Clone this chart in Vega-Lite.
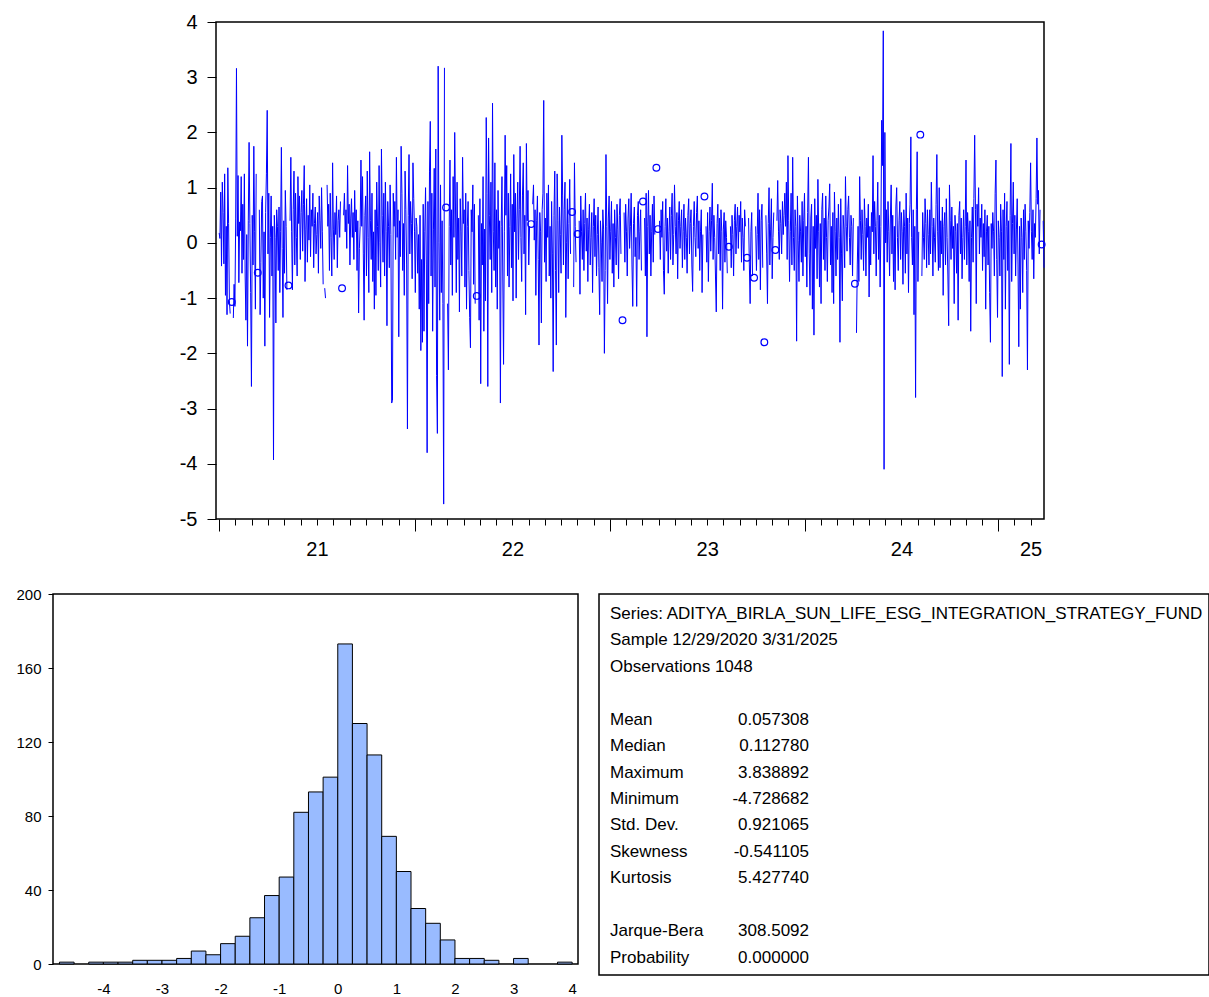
{
"$schema": "https://vega.github.io/schema/vega-lite/v6.json",
"background": "white",
"padding": {"left": 15, "top": 11, "right": 0, "bottom": 0},
"autosize": {"type": "pad"},
"config": {
  "font": "Liberation Sans",
  "view": {"stroke": "#000000", "strokeWidth": 1.5},
  "axis": {"domain": false, "grid": false, "labelFont": "Liberation Sans", "labelColor": "#000000", "tickColor": "#000000", "tickWidth": 1, "title": null}
},
"datasets": {
"series": [
{"i":0,"v":0.18},{"i":1,"v":0.08},{"i":2,"v":0.92},{"i":3,"v":-0.42},{"i":4,"v":1.1},{"i":5,"v":0.55},{"i":6,"v":-0.38},{"i":7,"v":1.25},{"i":8,"v":-0.95},{"i":9,"v":0.3},
{"i":10,"v":-1.3},{"i":11,"v":1.36},{"i":12,"v":0.35},{"i":13,"v":-1.05},{"i":14,"v":-1.28},{"i":15,"v":null},{"i":16,"v":-1.07},{"i":17,"v":null},{"i":18,"v":-1.36},{"i":19,"v":-0.75},
{"i":20,"v":-1.15},{"i":21,"v":0.45},{"i":22,"v":3.16},{"i":23,"v":0.12},{"i":24,"v":1.22},{"i":25,"v":-0.72},{"i":26,"v":0.38},{"i":27,"v":0.22},{"i":28,"v":1.2},{"i":29,"v":-0.55},
{"i":30,"v":0.7},{"i":31,"v":-0.3},{"i":32,"v":1.25},{"i":33,"v":-0.6},{"i":34,"v":-1.4},{"i":35,"v":0.15},{"i":36,"v":-1.87},{"i":37,"v":0.4},{"i":38,"v":1.82},{"i":39,"v":0.35},
{"i":40,"v":-0.9},{"i":41,"v":-2.6},{"i":42,"v":0.5},{"i":43,"v":-0.4},{"i":44,"v":1.75},{"i":45,"v":0.2},{"i":46,"v":-1.2},{"i":47,"v":1.25},{"i":48,"v":null},{"i":49,"v":-0.54},
{"i":50,"v":null},{"i":51,"v":0.6},{"i":52,"v":-1.3},{"i":53,"v":-0.35},{"i":54,"v":0.75},{"i":55,"v":0.85},{"i":56,"v":-1.0},{"i":57,"v":0.2},{"i":58,"v":-1.87},{"i":59,"v":0.55},
{"i":60,"v":1.25},{"i":61,"v":2.4},{"i":62,"v":-0.2},{"i":63,"v":0.9},{"i":64,"v":-1.35},{"i":65,"v":0.1},{"i":66,"v":0.85},{"i":67,"v":-0.6},{"i":68,"v":0.3},{"i":69,"v":-3.93},
{"i":70,"v":0.5},{"i":71,"v":0.1},{"i":72,"v":-1.45},{"i":73,"v":0.6},{"i":74,"v":0.3},{"i":75,"v":-0.5},{"i":76,"v":0.65},{"i":77,"v":-0.9},{"i":78,"v":0.2},{"i":79,"v":1.73},
{"i":80,"v":-0.1},{"i":81,"v":-1.35},{"i":82,"v":0.4},{"i":83,"v":-0.55},{"i":84,"v":0.95},{"i":85,"v":0.3},{"i":86,"v":-0.85},{"i":87,"v":null},{"i":88,"v":-0.77},{"i":89,"v":null},
{"i":90,"v":0.4},{"i":91,"v":1.55},{"i":92,"v":0.2},{"i":93,"v":-0.85},{"i":94,"v":0.6},{"i":95,"v":1.3},{"i":96,"v":-0.4},{"i":97,"v":0.9},{"i":98,"v":0.1},{"i":99,"v":-0.6},
{"i":100,"v":1.2},{"i":101,"v":0.35},{"i":102,"v":0.85},{"i":103,"v":-0.3},{"i":104,"v":0.55},{"i":105,"v":0.95},{"i":106,"v":-0.15},{"i":107,"v":0.7},{"i":108,"v":1.4},{"i":109,"v":-0.7},
{"i":110,"v":0.25},{"i":111,"v":0.8},{"i":112,"v":-0.35},{"i":113,"v":0.5},{"i":114,"v":0.05},{"i":115,"v":1.05},{"i":116,"v":-0.25},{"i":117,"v":0.6},{"i":118,"v":0.3},{"i":119,"v":0.9},
{"i":120,"v":-0.45},{"i":121,"v":0.35},{"i":122,"v":0.65},{"i":123,"v":-0.2},{"i":124,"v":0.15},{"i":125,"v":0.55},{"i":126,"v":-0.55},{"i":127,"v":0.85},{"i":128,"v":0.4},{"i":129,"v":-0.1},
{"i":130,"v":1.0},{"i":131,"v":0.2},{"i":132,"v":-0.75},{"i":133,"v":null},{"i":134,"v":-0.82},{"i":135,"v":-1.0},{"i":136,"v":null},{"i":137,"v":1.05},{"i":138,"v":0.3},{"i":139,"v":0.7},
{"i":140,"v":-0.5},{"i":141,"v":0.9},{"i":142,"v":0.1},{"i":143,"v":-0.6},{"i":144,"v":1.45},{"i":145,"v":0.25},{"i":146,"v":-0.3},{"i":147,"v":0.55},{"i":148,"v":0.15},{"i":149,"v":0.85},
{"i":150,"v":-0.45},{"i":151,"v":0.4},{"i":152,"v":0.6},{"i":153,"v":0.1},{"i":154,"v":0.75},{"i":155,"v":null},{"i":156,"v":-0.82},{"i":157,"v":null},{"i":158,"v":0.5},{"i":159,"v":0.9},
{"i":160,"v":0.2},{"i":161,"v":0.6},{"i":162,"v":-0.1},{"i":163,"v":1.4},{"i":164,"v":0.35},{"i":165,"v":0.7},{"i":166,"v":-0.4},{"i":167,"v":0.45},{"i":168,"v":0.8},{"i":169,"v":0.1},
{"i":170,"v":0.55},{"i":171,"v":-0.3},{"i":172,"v":0.95},{"i":173,"v":0.2},{"i":174,"v":0.6},{"i":175,"v":-0.5},{"i":176,"v":0.4},{"i":177,"v":-1.27},{"i":178,"v":-0.1},{"i":179,"v":0.3},
{"i":180,"v":1.5},{"i":181,"v":0.3},{"i":182,"v":1.2},{"i":183,"v":-0.2},{"i":184,"v":-1.4},{"i":185,"v":0.5},{"i":186,"v":0.85},{"i":187,"v":-0.6},{"i":188,"v":1.3},{"i":189,"v":0.1},
{"i":190,"v":-0.9},{"i":191,"v":1.65},{"i":192,"v":0.4},{"i":193,"v":-0.3},{"i":194,"v":0.9},{"i":195,"v":-0.7},{"i":196,"v":0.2},{"i":197,"v":-1.2},{"i":198,"v":0.6},{"i":199,"v":-0.95},
{"i":200,"v":1.1},{"i":201,"v":0.3},{"i":202,"v":-0.5},{"i":203,"v":1.4},{"i":204,"v":0.0},{"i":205,"v":-0.8},{"i":206,"v":1.7},{"i":207,"v":0.5},{"i":208,"v":-0.35},{"i":209,"v":0.9},
{"i":210,"v":-0.6},{"i":211,"v":1.1},{"i":212,"v":0.2},{"i":213,"v":-1.5},{"i":214,"v":0.75},{"i":215,"v":0.3},{"i":216,"v":-0.45},{"i":217,"v":1.05},{"i":218,"v":0.15},{"i":219,"v":-2.9},
{"i":220,"v":-2.85},{"i":221,"v":0.9},{"i":222,"v":0.3},{"i":223,"v":0.75},{"i":224,"v":-0.3},{"i":225,"v":1.55},{"i":226,"v":0.1},{"i":227,"v":0.6},{"i":228,"v":-1.7},{"i":229,"v":0.4},
{"i":230,"v":-0.25},{"i":231,"v":1.75},{"i":232,"v":0.9},{"i":233,"v":-0.5},{"i":234,"v":0.35},{"i":235,"v":-0.95},{"i":236,"v":1.3},{"i":237,"v":0.6},{"i":238,"v":-0.4},{"i":239,"v":-3.37},
{"i":240,"v":0.5},{"i":241,"v":1.6},{"i":242,"v":-0.2},{"i":243,"v":0.75},{"i":244,"v":0.35},{"i":245,"v":-0.65},{"i":246,"v":1.45},{"i":247,"v":0.8},{"i":248,"v":0.2},{"i":249,"v":-0.9},
{"i":250,"v":0.45},{"i":251,"v":0.3},{"i":252,"v":-0.55},{"i":253,"v":0.15},{"i":254,"v":-1.2},{"i":255,"v":0.5},{"i":256,"v":-1.95},{"i":257,"v":-0.3},{"i":258,"v":-1.8},{"i":259,"v":0.7},
{"i":260,"v":-1.6},{"i":261,"v":0.2},{"i":262,"v":1.0},{"i":263,"v":-0.4},{"i":264,"v":-3.8},{"i":265,"v":0.75},{"i":266,"v":-1.1},{"i":267,"v":1.3},{"i":268,"v":2.2},{"i":269,"v":-0.6},
{"i":270,"v":0.9},{"i":271,"v":-1.6},{"i":272,"v":0.25},{"i":273,"v":1.35},{"i":274,"v":-0.8},{"i":275,"v":1.7},{"i":276,"v":-2.4},{"i":277,"v":-3.45},{"i":278,"v":3.2},{"i":279,"v":0.0},
{"i":280,"v":-1.4},{"i":281,"v":1.05},{"i":282,"v":-0.9},{"i":283,"v":0.4},{"i":284,"v":-1.1},{"i":285,"v":-4.73},{"i":286,"v":3.17},{"i":287,"v":null},{"i":288,"v":0.64},{"i":289,"v":null},
{"i":290,"v":-1.1},{"i":291,"v":-2.3},{"i":292,"v":0.3},{"i":293,"v":1.5},{"i":294,"v":-0.4},{"i":295,"v":0.6},{"i":296,"v":-0.95},{"i":297,"v":1.2},{"i":298,"v":0.1},{"i":299,"v":2.0},
{"i":300,"v":0.65},{"i":301,"v":-0.9},{"i":302,"v":1.1},{"i":303,"v":-0.3},{"i":304,"v":0.45},{"i":305,"v":-1.25},{"i":306,"v":0.8},{"i":307,"v":0.2},{"i":308,"v":-0.6},{"i":309,"v":1.55},
{"i":310,"v":0.35},{"i":311,"v":0.6},{"i":312,"v":-0.8},{"i":313,"v":0.9},{"i":314,"v":-1.2},{"i":315,"v":0.3},{"i":316,"v":0.75},{"i":317,"v":-0.5},{"i":318,"v":-1.35},{"i":319,"v":-1.9},
{"i":320,"v":0.6},{"i":321,"v":0.2},{"i":322,"v":1.05},{"i":323,"v":-0.75},{"i":324,"v":0.7},{"i":325,"v":-1.1},{"i":326,"v":null},{"i":327,"v":-0.96},{"i":328,"v":null},{"i":329,"v":0.5},
{"i":330,"v":-1.4},{"i":331,"v":0.8},{"i":332,"v":-2.55},{"i":333,"v":0.35},{"i":334,"v":-0.4},{"i":335,"v":1.2},{"i":336,"v":-1.6},{"i":337,"v":0.25},{"i":338,"v":-1.05},{"i":339,"v":2.27},
{"i":340,"v":0.9},{"i":341,"v":-2.6},{"i":342,"v":1.9},{"i":343,"v":0.5},{"i":344,"v":-0.3},{"i":345,"v":1.1},{"i":346,"v":-0.9},{"i":347,"v":2.53},{"i":348,"v":0.2},{"i":349,"v":-0.5},
{"i":350,"v":1.45},{"i":351,"v":-0.8},{"i":352,"v":0.6},{"i":353,"v":-1.2},{"i":354,"v":0.95},{"i":355,"v":-0.1},{"i":356,"v":0.4},{"i":357,"v":-2.9},{"i":358,"v":0.3},{"i":359,"v":1.2},
{"i":360,"v":-0.6},{"i":361,"v":-2.2},{"i":362,"v":0.2},{"i":363,"v":1.95},{"i":364,"v":0.5},{"i":365,"v":1.4},{"i":366,"v":-0.6},{"i":367,"v":0.9},{"i":368,"v":-0.8},{"i":369,"v":0.3},
{"i":370,"v":1.25},{"i":371,"v":-0.45},{"i":372,"v":0.7},{"i":373,"v":-1.05},{"i":374,"v":1.6},{"i":375,"v":0.2},{"i":376,"v":0.9},{"i":377,"v":-1.0},{"i":378,"v":0.45},{"i":379,"v":1.1},
{"i":380,"v":-0.3},{"i":381,"v":0.6},{"i":382,"v":1.75},{"i":383,"v":0.1},{"i":384,"v":-0.7},{"i":385,"v":0.85},{"i":386,"v":1.45},{"i":387,"v":-0.2},{"i":388,"v":0.5},{"i":389,"v":-1.3},
{"i":390,"v":1.8},{"i":391,"v":0.4},{"i":392,"v":0.95},{"i":393,"v":-0.4},{"i":394,"v":0.3},{"i":395,"v":null},{"i":396,"v":0.34},{"i":397,"v":null},{"i":398,"v":0.7},{"i":399,"v":1.05},
{"i":400,"v":0.05},{"i":401,"v":0.6},{"i":402,"v":-0.95},{"i":403,"v":0.4},{"i":404,"v":0.85},{"i":405,"v":-0.3},{"i":406,"v":-1.85},{"i":407,"v":0.55},{"i":408,"v":0.2},{"i":409,"v":-1.45},
{"i":410,"v":0.6},{"i":411,"v":0.9},{"i":412,"v":2.58},{"i":413,"v":-0.35},{"i":414,"v":0.45},{"i":415,"v":-0.7},{"i":416,"v":0.9},{"i":417,"v":0.1},{"i":418,"v":1.05},{"i":419,"v":-0.6},
{"i":420,"v":0.3},{"i":421,"v":-1.0},{"i":422,"v":0.75},{"i":423,"v":-0.2},{"i":424,"v":-2.33},{"i":425,"v":0.5},{"i":426,"v":1.3},{"i":427,"v":-0.5},{"i":428,"v":-1.85},{"i":429,"v":1.25},
{"i":430,"v":0.4},{"i":431,"v":-0.9},{"i":432,"v":0.65},{"i":433,"v":0.15},{"i":434,"v":-0.55},{"i":435,"v":1.95},{"i":436,"v":0.85},{"i":437,"v":-0.4},{"i":438,"v":0.6},{"i":439,"v":1.1},
{"i":440,"v":-1.35},{"i":441,"v":0.0},{"i":442,"v":0.8},{"i":443,"v":-0.65},{"i":444,"v":0.35},{"i":445,"v":1.15},{"i":446,"v":-0.2},{"i":447,"v":null},{"i":448,"v":0.56},{"i":449,"v":null},
{"i":450,"v":-0.8},{"i":451,"v":1.45},{"i":452,"v":0.3},{"i":453,"v":-0.35},{"i":454,"v":null},{"i":455,"v":0.16},{"i":456,"v":null},{"i":457,"v":0.4},{"i":458,"v":-0.93},{"i":459,"v":0.85},
{"i":460,"v":0.2},{"i":461,"v":-0.3},{"i":462,"v":0.6},{"i":463,"v":-0.5},{"i":464,"v":0.35},{"i":465,"v":0.9},{"i":466,"v":-0.15},{"i":467,"v":0.45},{"i":468,"v":-0.7},{"i":469,"v":0.25},
{"i":470,"v":0.7},{"i":471,"v":-0.4},{"i":472,"v":0.1},{"i":473,"v":0.55},{"i":474,"v":-0.9},{"i":475,"v":0.3},{"i":476,"v":0.8},{"i":477,"v":-0.25},{"i":478,"v":0.5},{"i":479,"v":-0.6},
{"i":480,"v":0.15},{"i":481,"v":0.65},{"i":482,"v":-0.45},{"i":483,"v":-1.3},{"i":484,"v":0.4},{"i":485,"v":0.0},{"i":486,"v":-0.7},{"i":487,"v":0.6},{"i":488,"v":0.25},{"i":489,"v":-2.0},
{"i":490,"v":-0.5},{"i":491,"v":1.6},{"i":492,"v":0.3},{"i":493,"v":-1.1},{"i":494,"v":0.45},{"i":495,"v":0.85},{"i":496,"v":-0.3},{"i":497,"v":0.2},{"i":498,"v":0.75},{"i":499,"v":-0.55},
{"i":500,"v":0.35},{"i":501,"v":-0.8},{"i":502,"v":0.6},{"i":503,"v":0.1},{"i":504,"v":-0.4},{"i":505,"v":0.7},{"i":506,"v":0.25},{"i":507,"v":-0.65},{"i":508,"v":0.5},{"i":509,"v":0.8},
{"i":510,"v":-0.2},{"i":511,"v":null},{"i":512,"v":-1.4},{"i":513,"v":null},{"i":514,"v":0.55},{"i":515,"v":-0.35},{"i":516,"v":0.7},{"i":517,"v":0.2},{"i":518,"v":-0.6},{"i":519,"v":0.45},
{"i":520,"v":0.8},{"i":521,"v":-0.1},{"i":522,"v":0.3},{"i":523,"v":0.9},{"i":524,"v":-0.4},{"i":525,"v":-1.15},{"i":526,"v":0.35},{"i":527,"v":0.65},{"i":528,"v":-0.25},{"i":529,"v":0.1},
{"i":530,"v":-1.15},{"i":531,"v":0.5},{"i":532,"v":0.75},{"i":533,"v":-0.3},{"i":534,"v":0.2},{"i":535,"v":0.6},{"i":536,"v":-0.5},{"i":537,"v":null},{"i":538,"v":0.75},{"i":539,"v":null},
{"i":540,"v":0.45},{"i":541,"v":-0.6},{"i":542,"v":0.9},{"i":543,"v":-1.7},{"i":544,"v":0.3},{"i":545,"v":0.95},{"i":546,"v":-0.2},{"i":547,"v":0.5},{"i":548,"v":-0.6},{"i":549,"v":0.2},
{"i":550,"v":0.7},{"i":551,"v":-0.35},{"i":552,"v":0.85},{"i":553,"v":0.15},{"i":554,"v":null},{"i":555,"v":1.36},{"i":556,"v":null},{"i":557,"v":0.25},{"i":558,"v":null},{"i":559,"v":0.4},
{"i":560,"v":-0.3},{"i":561,"v":0.6},{"i":562,"v":0.1},{"i":563,"v":0.75},{"i":564,"v":-0.5},{"i":565,"v":-0.93},{"i":566,"v":0.3},{"i":567,"v":0.8},{"i":568,"v":-0.15},{"i":569,"v":0.45},
{"i":570,"v":-0.55},{"i":571,"v":0.2},{"i":572,"v":0.65},{"i":573,"v":-0.3},{"i":574,"v":0.5},{"i":575,"v":0.9},{"i":576,"v":-0.4},{"i":577,"v":0.15},{"i":578,"v":1.05},{"i":579,"v":0.3},
{"i":580,"v":-0.2},{"i":581,"v":0.55},{"i":582,"v":-0.65},{"i":583,"v":0.4},{"i":584,"v":0.75},{"i":585,"v":-0.1},{"i":586,"v":0.3},{"i":587,"v":0.6},{"i":588,"v":-0.45},{"i":589,"v":0.2},
{"i":590,"v":0.7},{"i":591,"v":-0.3},{"i":592,"v":0.45},{"i":593,"v":0.1},{"i":594,"v":-0.55},{"i":595,"v":0.5},{"i":596,"v":0.8},{"i":597,"v":-0.2},{"i":598,"v":0.35},{"i":599,"v":0.6},
{"i":600,"v":-0.4},{"i":601,"v":-0.88},{"i":602,"v":0.3},{"i":603,"v":0.75},{"i":604,"v":0.1},{"i":605,"v":-0.25},{"i":606,"v":0.55},{"i":607,"v":0.85},{"i":608,"v":-0.1},{"i":609,"v":0.4},
{"i":610,"v":-0.5},{"i":611,"v":0.2},{"i":612,"v":0.6},{"i":613,"v":-0.9},{"i":614,"v":0.15},{"i":615,"v":null},{"i":616,"v":0.84},{"i":617,"v":null},{"i":618,"v":0.3},{"i":619,"v":-0.35},
{"i":620,"v":0.55},{"i":621,"v":-0.7},{"i":622,"v":0.2},{"i":623,"v":0.65},{"i":624,"v":-0.15},{"i":625,"v":0.4},{"i":626,"v":1.08},{"i":627,"v":-0.3},{"i":628,"v":0.5},{"i":629,"v":0.1},
{"i":630,"v":-0.6},{"i":631,"v":-1.25},{"i":632,"v":0.35},{"i":633,"v":0.7},{"i":634,"v":-0.2},{"i":635,"v":0.45},{"i":636,"v":-0.5},{"i":637,"v":0.6},{"i":638,"v":0.2},{"i":639,"v":-1.2},
{"i":640,"v":0.25},{"i":641,"v":0.55},{"i":642,"v":-0.35},{"i":643,"v":0.4},{"i":644,"v":0.1},{"i":645,"v":-0.55},{"i":646,"v":null},{"i":647,"v":-0.07},{"i":648,"v":null},{"i":649,"v":0.3},
{"i":650,"v":-0.45},{"i":651,"v":0.5},{"i":652,"v":0.15},{"i":653,"v":-0.6},{"i":654,"v":0.4},{"i":655,"v":0.7},{"i":656,"v":-0.2},{"i":657,"v":0.3},{"i":658,"v":0.65},{"i":659,"v":-0.1},
{"i":660,"v":0.5},{"i":661,"v":0.2},{"i":662,"v":0.75},{"i":663,"v":-0.35},{"i":664,"v":0.45},{"i":665,"v":0.1},{"i":666,"v":-0.5},{"i":667,"v":0.6},{"i":668,"v":0.3},{"i":669,"v":null},
{"i":670,"v":-0.27},{"i":671,"v":null},{"i":672,"v":0.45},{"i":673,"v":-0.4},{"i":674,"v":-1.1},{"i":675,"v":0.2},{"i":676,"v":0.55},{"i":677,"v":-0.6},{"i":678,"v":null},{"i":679,"v":-0.63},
{"i":680,"v":null},{"i":681,"v":0.3},{"i":682,"v":-0.5},{"i":683,"v":0.15},{"i":684,"v":0.9},{"i":685,"v":-0.3},{"i":686,"v":0.6},{"i":687,"v":-0.85},{"i":688,"v":0.4},{"i":689,"v":0.7},
{"i":690,"v":-0.45},{"i":691,"v":null},{"i":692,"v":-1.8},{"i":693,"v":null},{"i":694,"v":0.5},{"i":695,"v":-0.2},{"i":696,"v":-1.1},{"i":697,"v":0.35},{"i":698,"v":1.0},{"i":699,"v":-0.4},
{"i":700,"v":0.25},{"i":701,"v":0.8},{"i":702,"v":-0.65},{"i":703,"v":0.1},{"i":704,"v":0.55},{"i":705,"v":null},{"i":706,"v":-0.13},{"i":707,"v":null},{"i":708,"v":0.4},{"i":709,"v":1.13},
{"i":710,"v":0.2},{"i":711,"v":-0.3},{"i":712,"v":0.6},{"i":713,"v":0.35},{"i":714,"v":-0.2},{"i":715,"v":0.75},{"i":716,"v":0.15},{"i":717,"v":0.5},{"i":718,"v":0.9},{"i":719,"v":0.3},
{"i":720,"v":1.1},{"i":721,"v":-0.3},{"i":722,"v":1.58},{"i":723,"v":0.4},{"i":724,"v":-0.7},{"i":725,"v":0.2},{"i":726,"v":0.9},{"i":727,"v":-0.4},{"i":728,"v":1.55},{"i":729,"v":0.1},
{"i":730,"v":-0.5},{"i":731,"v":0.6},{"i":732,"v":0.3},{"i":733,"v":-1.78},{"i":734,"v":0.85},{"i":735,"v":0.05},{"i":736,"v":-0.7},{"i":737,"v":0.5},{"i":738,"v":0.2},{"i":739,"v":-0.35},
{"i":740,"v":0.75},{"i":741,"v":-0.6},{"i":742,"v":0.4},{"i":743,"v":0.9},{"i":744,"v":-0.25},{"i":745,"v":0.3},{"i":746,"v":-0.8},{"i":747,"v":0.55},{"i":748,"v":1.55},{"i":749,"v":-0.2},
{"i":750,"v":-0.95},{"i":751,"v":0.45},{"i":752,"v":0.7},{"i":753,"v":-1.2},{"i":754,"v":0.3},{"i":755,"v":-1.67},{"i":756,"v":0.8},{"i":757,"v":-0.1},{"i":758,"v":0.5},{"i":759,"v":-0.65},
{"i":760,"v":1.15},{"i":761,"v":0.2},{"i":762,"v":-0.8},{"i":763,"v":0.35},{"i":764,"v":-1.1},{"i":765,"v":0.6},{"i":766,"v":0.9},{"i":767,"v":-0.3},{"i":768,"v":0.45},{"i":769,"v":-0.5},
{"i":770,"v":0.85},{"i":771,"v":0.1},{"i":772,"v":-0.7},{"i":773,"v":0.4},{"i":774,"v":0.65},{"i":775,"v":1.07},{"i":776,"v":-0.4},{"i":777,"v":0.3},{"i":778,"v":-0.9},{"i":779,"v":0.55},
{"i":780,"v":-1.1},{"i":781,"v":0.92},{"i":782,"v":0.2},{"i":783,"v":-0.6},{"i":784,"v":0.45},{"i":785,"v":-0.3},{"i":786,"v":0.7},{"i":787,"v":0.1},{"i":788,"v":-1.8},{"i":789,"v":0.8},
{"i":790,"v":-0.2},{"i":791,"v":-1.05},{"i":792,"v":0.5},{"i":793,"v":0.25},{"i":794,"v":-0.45},{"i":795,"v":1.2},{"i":796,"v":0.3},{"i":797,"v":-0.15},{"i":798,"v":0.6},{"i":799,"v":0.85},
{"i":800,"v":0.1},{"i":801,"v":-0.4},{"i":802,"v":0.5},{"i":803,"v":0.3},{"i":804,"v":-0.6},{"i":805,"v":0.45},{"i":806,"v":null},{"i":807,"v":-0.74},{"i":808,"v":null},{"i":809,"v":-1.63},
{"i":810,"v":-0.4},{"i":811,"v":0.3},{"i":812,"v":-0.7},{"i":813,"v":1.2},{"i":814,"v":0.4},{"i":815,"v":-0.3},{"i":816,"v":0.6},{"i":817,"v":0.15},{"i":818,"v":-0.5},{"i":819,"v":0.8},
{"i":820,"v":0.3},{"i":821,"v":-0.6},{"i":822,"v":0.45},{"i":823,"v":0.1},{"i":824,"v":0.7},{"i":825,"v":-0.98},{"i":826,"v":0.3},{"i":827,"v":-0.4},{"i":828,"v":0.55},{"i":829,"v":0.2},
{"i":830,"v":1.58},{"i":831,"v":-0.2},{"i":832,"v":0.75},{"i":833,"v":0.3},{"i":834,"v":-0.6},{"i":835,"v":0.4},{"i":836,"v":1.1},{"i":837,"v":-0.3},{"i":838,"v":0.5},{"i":839,"v":-0.8},
{"i":840,"v":0.3},{"i":841,"v":2.22},{"i":842,"v":1.4},{"i":843,"v":3.84},{"i":844,"v":-4.1},{"i":845,"v":2.0},{"i":846,"v":0.0},{"i":847,"v":0.6},{"i":848,"v":-0.35},{"i":849,"v":0.75},
{"i":850,"v":0.2},{"i":851,"v":-0.6},{"i":852,"v":0.45},{"i":853,"v":1.05},{"i":854,"v":-0.2},{"i":855,"v":0.5},{"i":856,"v":-0.7},{"i":857,"v":0.3},{"i":858,"v":-0.85},{"i":859,"v":0.65},
{"i":860,"v":1.0},{"i":861,"v":0.1},{"i":862,"v":-0.5},{"i":863,"v":0.4},{"i":864,"v":0.75},{"i":865,"v":-0.3},{"i":866,"v":0.55},{"i":867,"v":0.2},{"i":868,"v":-0.75},{"i":869,"v":0.6},
{"i":870,"v":0.3},{"i":871,"v":-0.55},{"i":872,"v":0.9},{"i":873,"v":-0.2},{"i":874,"v":0.45},{"i":875,"v":-0.9},{"i":876,"v":0.35},{"i":877,"v":0.7},{"i":878,"v":1.92},{"i":879,"v":0.1},
{"i":880,"v":-0.4},{"i":881,"v":0.6},{"i":882,"v":-1.3},{"i":883,"v":0.3},{"i":884,"v":-2.8},{"i":885,"v":0.6},{"i":886,"v":1.65},{"i":887,"v":-0.7},{"i":888,"v":0.2},{"i":889,"v":null},
{"i":890,"v":1.96},{"i":891,"v":null},{"i":892,"v":-0.6},{"i":893,"v":0.55},{"i":894,"v":0.1},{"i":895,"v":-0.3},{"i":896,"v":0.8},{"i":897,"v":0.35},{"i":898,"v":-0.45},{"i":899,"v":0.6},
{"i":900,"v":0.15},{"i":901,"v":-0.4},{"i":902,"v":0.6},{"i":903,"v":-0.2},{"i":904,"v":1.1},{"i":905,"v":0.3},{"i":906,"v":-0.6},{"i":907,"v":0.45},{"i":908,"v":0.1},{"i":909,"v":-0.35},
{"i":910,"v":0.7},{"i":911,"v":1.6},{"i":912,"v":0.2},{"i":913,"v":-0.5},{"i":914,"v":1.0},{"i":915,"v":-0.45},{"i":916,"v":0.4},{"i":917,"v":-0.2},{"i":918,"v":0.65},{"i":919,"v":-0.95},
{"i":920,"v":0.3},{"i":921,"v":0.55},{"i":922,"v":-0.4},{"i":923,"v":0.8},{"i":924,"v":0.1},{"i":925,"v":-0.6},{"i":926,"v":-1.5},{"i":927,"v":1.05},{"i":928,"v":0.4},{"i":929,"v":-0.3},
{"i":930,"v":0.65},{"i":931,"v":-0.1},{"i":932,"v":0.3},{"i":933,"v":-1.1},{"i":934,"v":0.5},{"i":935,"v":0.2},{"i":936,"v":-0.55},{"i":937,"v":0.35},{"i":938,"v":-1.4},{"i":939,"v":0.5},
{"i":940,"v":0.75},{"i":941,"v":-0.2},{"i":942,"v":0.45},{"i":943,"v":-0.65},{"i":944,"v":0.1},{"i":945,"v":0.6},{"i":946,"v":-0.3},{"i":947,"v":0.3},{"i":948,"v":1.5},{"i":949,"v":-0.4},
{"i":950,"v":0.55},{"i":951,"v":0.2},{"i":952,"v":-0.7},{"i":953,"v":0.4},{"i":954,"v":-1.6},{"i":955,"v":0.1},{"i":956,"v":0.65},{"i":957,"v":-0.35},{"i":958,"v":0.8},{"i":959,"v":1.95},
{"i":960,"v":0.6},{"i":961,"v":-1.1},{"i":962,"v":0.7},{"i":963,"v":0.3},{"i":964,"v":1.0},{"i":965,"v":-0.2},{"i":966,"v":0.45},{"i":967,"v":0.1},{"i":968,"v":0.7},{"i":969,"v":-0.5},
{"i":970,"v":0.35},{"i":971,"v":-0.25},{"i":972,"v":0.6},{"i":973,"v":-1.2},{"i":974,"v":0.2},{"i":975,"v":0.5},{"i":976,"v":-0.4},{"i":977,"v":0.3},{"i":978,"v":-0.9},{"i":979,"v":-1.8},
{"i":980,"v":0.35},{"i":981,"v":-0.1},{"i":982,"v":0.55},{"i":983,"v":0.2},{"i":984,"v":-0.6},{"i":985,"v":0.9},{"i":986,"v":1.5},{"i":987,"v":-0.3},{"i":988,"v":-1.35},{"i":989,"v":0.4},
{"i":990,"v":0.1},{"i":991,"v":-0.6},{"i":992,"v":0.7},{"i":993,"v":0.2},{"i":994,"v":-2.42},{"i":995,"v":0.6},{"i":996,"v":-0.3},{"i":997,"v":0.9},{"i":998,"v":-1.2},{"i":999,"v":0.3},
{"i":1000,"v":0.75},{"i":1001,"v":-0.5},{"i":1002,"v":0.4},{"i":1003,"v":-2.2},{"i":1004,"v":0.5},{"i":1005,"v":1.8},{"i":1006,"v":-0.7},{"i":1007,"v":0.35},{"i":1008,"v":1.1},{"i":1009,"v":-0.2},
{"i":1010,"v":0.5},{"i":1011,"v":-0.6},{"i":1012,"v":0.25},{"i":1013,"v":0.8},{"i":1014,"v":-0.4},{"i":1015,"v":-1.88},{"i":1016,"v":0.3},{"i":1017,"v":-1.2},{"i":1018,"v":0.45},{"i":1019,"v":0.1},
{"i":1020,"v":-0.9},{"i":1021,"v":0.6},{"i":1022,"v":-0.3},{"i":1023,"v":0.7},{"i":1024,"v":0.2},{"i":1025,"v":-0.5},{"i":1026,"v":-2.3},{"i":1027,"v":0.4},{"i":1028,"v":-0.1},{"i":1029,"v":0.55},
{"i":1030,"v":1.45},{"i":1031,"v":0.2},{"i":1032,"v":-0.3},{"i":1033,"v":0.6},{"i":1034,"v":-0.65},{"i":1035,"v":0.35},{"i":1036,"v":0.1},{"i":1037,"v":0.8},{"i":1038,"v":1.9},{"i":1039,"v":0.7},
{"i":1040,"v":0.95},{"i":1041,"v":-0.2},{"i":1042,"v":0.6},{"i":1043,"v":null},{"i":1044,"v":-0.03},{"i":1045,"v":null},{"i":1046,"v":0.4},{"i":1047,"v":-0.45}
],
"hist": [
{"b0":-4.75,"b1":-4.5,"n":1},{"b0":-4.25,"b1":-4.0,"n":1},{"b0":-4.0,"b1":-3.75,"n":1},{"b0":-3.75,"b1":-3.5,"n":1},
{"b0":-3.5,"b1":-3.25,"n":2},{"b0":-3.25,"b1":-3.0,"n":2},{"b0":-3.0,"b1":-2.75,"n":2},{"b0":-2.75,"b1":-2.5,"n":3},
{"b0":-2.5,"b1":-2.25,"n":7},{"b0":-2.25,"b1":-2.0,"n":5},{"b0":-2.0,"b1":-1.75,"n":11},{"b0":-1.75,"b1":-1.5,"n":15},
{"b0":-1.5,"b1":-1.25,"n":25},{"b0":-1.25,"b1":-1.0,"n":37},{"b0":-1.0,"b1":-0.75,"n":47},{"b0":-0.75,"b1":-0.5,"n":82},
{"b0":-0.5,"b1":-0.25,"n":93},{"b0":-0.25,"b1":0.0,"n":101},{"b0":0.0,"b1":0.25,"n":173},{"b0":0.25,"b1":0.5,"n":130},
{"b0":0.5,"b1":0.75,"n":113},{"b0":0.75,"b1":1.0,"n":69},{"b0":1.0,"b1":1.25,"n":50},{"b0":1.25,"b1":1.5,"n":30},
{"b0":1.5,"b1":1.75,"n":22},{"b0":1.75,"b1":2.0,"n":13},{"b0":2.0,"b1":2.25,"n":3},{"b0":2.25,"b1":2.5,"n":3},
{"b0":2.5,"b1":2.75,"n":2},{"b0":3.0,"b1":3.25,"n":3},{"b0":3.75,"b1":4.0,"n":1}
],
"stats": [
{"line":1,"col":"name","text":"Series: ADITYA_BIRLA_SUN_LIFE_ESG_INTEGRATION_STRATEGY_FUND"},
{"line":2,"col":"name","text":"Sample 12/29/2020 3/31/2025"},
{"line":3,"col":"name","text":"Observations 1048"},
{"line":5,"col":"name","text":"Mean"},{"line":5,"col":"val","text":"0.057308"},
{"line":6,"col":"name","text":"Median"},{"line":6,"col":"val","text":"0.112780"},
{"line":7,"col":"name","text":"Maximum"},{"line":7,"col":"val","text":"3.838892"},
{"line":8,"col":"name","text":"Minimum"},{"line":8,"col":"val","text":"-4.728682"},
{"line":9,"col":"name","text":"Std. Dev."},{"line":9,"col":"val","text":"0.921065"},
{"line":10,"col":"name","text":"Skewness"},{"line":10,"col":"val","text":"-0.541105"},
{"line":11,"col":"name","text":"Kurtosis"},{"line":11,"col":"val","text":"5.427740"},
{"line":13,"col":"name","text":"Jarque-Bera"},{"line":13,"col":"val","text":"308.5092"},
{"line":14,"col":"name","text":"Probability"},{"line":14,"col":"val","text":"0.000000"}
],
"empty": []
},
"vconcat": [
{
  "hconcat": [
    {
      "width": 163,
      "height": 497,
      "data": {"name": "empty"},
      "mark": {"type": "point"},
      "encoding": {},
      "view": {"stroke": null}
    },
    {
      "width": 828,
      "height": 497,
      "data": {"name": "series"},
      "layer": [
        {
          "mark": {"type": "line", "color": "#0000FF", "strokeWidth": 1, "invalid": "break-paths-show-domains"},
          "encoding": {
            "x": {"field": "i", "type": "quantitative",
              "scale": {"domain": [-4, 1047], "nice": false, "zero": false},
              "axis": {
                "values": [0,20.7,41.4,62.1,82.8,103.5,124.2,144.9,165.6,186.3,207,227.7,248.4,269,289.7,310.3,331,351.6,372.2,392.8,413.5,434.1,454.7,475.4,496,516.6,537.2,557.7,578.3,598.9,619.5,640.1,660.7,681.2,701.8,722.4,743,763.5,784,804.5,825,845.5,866,886.5,907,927.5,948,968.5,989,1009.5,1030],
                "tickCount": 200,
                "labelExpr": "datum.value == 124.2 ? '21' : datum.value == 372.2 ? '22' : datum.value == 619.5 ? '23' : datum.value == 866 ? '24' : datum.value == 1030 ? '25' : ''",
                "tickSize": {"condition": {"test": "datum.value == 0 || datum.value == 248.4 || datum.value == 496 || datum.value == 743 || datum.value == 989", "value": 12}, "value": 6},
                "labelFontSize": 20, "labelPadding": 14, "labelOverlap": false, "labelFlush": false, "labelBound": false, "title": null
              }
            },
            "y": {"field": "v", "type": "quantitative",
              "scale": {"domain": [-5, 4], "nice": false, "zero": false},
              "axis": {"values": [-5,-4,-3,-2,-1,0,1,2,3,4], "tickCount": 20, "labelExpr": "'' + datum.value", "tickSize": 9, "labelPadding": 10, "labelFontSize": 20, "labelFlush": false, "labelOverlap": false, "title": null}
            }
          }
        },
        {
          "transform": [
            {"window": [{"op": "lag", "field": "v", "as": "prev"}, {"op": "lead", "field": "v", "as": "next"}], "sort": [{"field": "i"}]},
            {"filter": "datum.v != null && datum.prev == null && datum.next == null"}
          ],
          "mark": {"type": "point", "shape": "circle", "filled": false, "color": "#0000FF", "size": 45, "strokeWidth": 1.2, "opacity": 1},
          "encoding": {
            "x": {"field": "i", "type": "quantitative"},
            "y": {"field": "v", "type": "quantitative"}
          }
        }
      ]
    }
  ],
  "spacing": 0,
  "bounds": "flush"
},
{
  "hconcat": [
    {
      "width": 525,
      "height": 370,
      "data": {"name": "hist"},
      "mark": {"type": "rect", "fill": "#99BBFF", "stroke": "#000000", "strokeWidth": 1},
      "encoding": {
        "x": {"field": "b0", "type": "quantitative",
          "scale": {"domain": [-4.86, 4.1], "nice": false, "zero": false},
          "axis": {"values": [-4,-3,-2,-1,0,1,2,3,4], "labelExpr": "'' + datum.value", "ticks": false, "tickSize": 0, "labelPadding": 17, "labelFontSize": 15, "labelFlush": false, "title": null}
        },
        "x2": {"field": "b1"},
        "y": {"field": "n", "type": "quantitative",
          "scale": {"domain": [0, 200], "nice": false, "zero": true},
          "axis": {"values": [0,40,80,120,160,200], "labelExpr": "'' + datum.value", "tickSize": 5, "labelPadding": 7, "labelFontSize": 15, "labelFlush": false, "title": null}
        },
        "y2": {"datum": 0}
      }
    },
    {
      "width": 610,
      "height": 381,
      "data": {"name": "stats"},
      "layer": [
        {
          "transform": [{"filter": "datum.col == 'name'"}],
          "mark": {"type": "text", "align": "left", "baseline": "middle", "fontSize": 17, "font": "Liberation Sans", "color": "#000000"},
          "encoding": {
            "x": {"field": "col", "type": "nominal", "scale": {"type": "point", "domain": ["name", "val"], "range": [11, 210], "padding": 0}, "axis": null},
            "y": {"field": "line", "type": "quantitative", "scale": {"domain": [0.25, 14.655], "reverse": true, "nice": false, "zero": false}, "axis": null},
            "text": {"field": "text"}
          }
        },
        {
          "transform": [{"filter": "datum.col == 'val'"}],
          "mark": {"type": "text", "align": "right", "baseline": "middle", "fontSize": 17, "font": "Liberation Sans", "color": "#000000"},
          "encoding": {
            "x": {"field": "col", "type": "nominal", "scale": {"type": "point", "domain": ["name", "val"], "range": [11, 210], "padding": 0}, "axis": null},
            "y": {"field": "line", "type": "quantitative", "scale": {"domain": [0.25, 14.655], "reverse": true, "nice": false, "zero": false}, "axis": null},
            "text": {"field": "text"}
          }
        }
      ]
    }
  ],
  "spacing": 21,
  "bounds": "flush"
}
],
"spacing": 20,
"bounds": "full"
}
